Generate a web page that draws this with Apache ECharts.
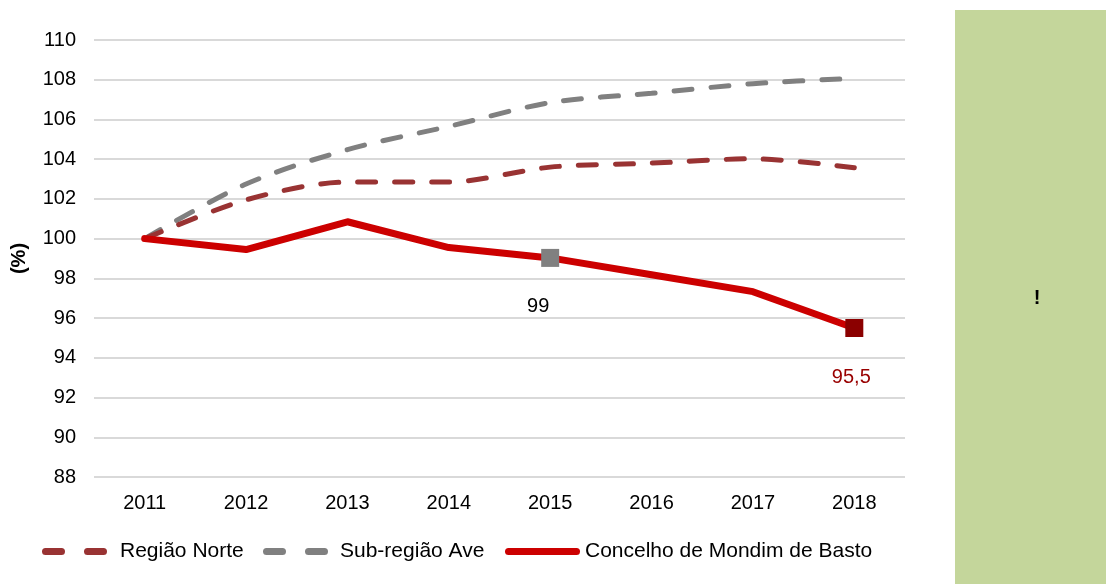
<!DOCTYPE html>
<html><head><meta charset="utf-8">
<script src="https://cdn.jsdelivr.net/npm/echarts@6/dist/echarts.min.js"></script>
<style>html,body{margin:0;padding:0;background:#fff}#c{width:1106px;height:584px}</style>
</head><body><div id="c"></div>
<script>
const categories = ['2011','2012','2013','2014','2015','2016','2017','2018'];
const regiaoNorte = [100, 101.95, 102.85, 102.85, 103.6, 103.8, 104.02, 103.57];
const subRegiaoAve = [100, 102.75, 104.48, 105.65, 106.85, 107.32, 107.8, 108.07];
const concelho = [100, 99.45, 100.85, 99.55, 99.03, 98.18, 97.33, 95.5];
const seriesNames = ['Região Norte', 'Sub-região Ave', 'Concelho de Mondim de Basto'];
const yTicks = {min: 88, max: 110, interval: 2};
const labelled = {4: {text: '99', color: '#000000', marker: '#808080', dx: -12},
                  7: {text: '95,5', color: '#990000', marker: '#8B0000', dx: -3}};

const font = 'Liberation Sans, Arial, sans-serif';
const concelhoData = concelho.map((v, i) => {
  const l = labelled[i];
  if (!l) return v;
  return {
    value: v, symbol: 'rect', symbolSize: 18,
    itemStyle: {color: l.marker},
    label: {show: true, position: 'bottom', distance: 30, offset: [l.dx, 0],
      formatter: l.text, color: l.color, fontSize: 20, fontFamily: font}
  };
});

// legend icon paths (two rounded dashes / one rounded bar)
const dashIcon = 'path://M3.5,0 H19.5 A3.5,3.5 0 0 1 19.5,7 H3.5 A3.5,3.5 0 0 1 3.5,0 Z M45.5,0 H61.5 A3.5,3.5 0 0 1 61.5,7 H45.5 A3.5,3.5 0 0 1 45.5,0 Z';
const barIcon = 'path://M3.5,0 H71.5 A3.5,3.5 0 0 1 71.5,7 H3.5 A3.5,3.5 0 0 1 3.5,0 Z';
const legendBase = {top: 541, padding: 0, itemHeight: 7, selectedMode: false,
  textStyle: {color: '#000', fontSize: 21, fontFamily: font}};

const chart = echarts.init(document.getElementById('c'), null, {renderer: 'canvas'});
chart.setOption({
  animation: false,
  backgroundColor: '#ffffff',
  grid: {left: 94, right: 201, top: 40, bottom: 107, containLabel: false},
  xAxis: {
    type: 'category', data: categories, boundaryGap: true,
    axisLine: {show: false}, axisTick: {show: false},
    axisLabel: {color: '#000', fontSize: 20, fontFamily: font, margin: 16}
  },
  yAxis: {
    type: 'value', min: yTicks.min, max: yTicks.max, interval: yTicks.interval,
    name: '(%)', nameLocation: 'middle', nameGap: 65, nameRotate: 90,
    nameTextStyle: {color: '#000', fontSize: 20, fontWeight: 'bold', fontFamily: font},
    axisLine: {show: false}, axisTick: {show: false},
    axisLabel: {color: '#000', fontSize: 20, fontFamily: font, margin: 18},
    splitLine: {lineStyle: {color: '#d9d9d9', width: 2}}
  },
  legend: [
    Object.assign({}, legendBase, {left: 42, itemWidth: 65,
      data: [{name: seriesNames[0], icon: dashIcon, itemStyle: {color: '#993333'},
        textStyle: {padding: [0, 0, 0, 8]}}]}),
    Object.assign({}, legendBase, {left: 263, itemWidth: 65,
      data: [{name: seriesNames[1], icon: dashIcon, itemStyle: {color: '#808080'},
        textStyle: {padding: [0, 0, 0, 7]}}]}),
    Object.assign({}, legendBase, {left: 505, itemWidth: 75, itemHeight: 8,
      data: [{name: seriesNames[2], icon: barIcon, itemStyle: {color: '#CC0000'}}]})
  ],
  series: [
    {name: seriesNames[0], type: 'line', data: regiaoNorte, smooth: 0.3, symbol: 'none',
     lineStyle: {color: '#993333', width: 5, type: [18, 19], cap: 'round'},
     itemStyle: {color: '#993333'}, z: 2},
    {name: seriesNames[1], type: 'line', data: subRegiaoAve, smooth: 0.3, symbol: 'none',
     lineStyle: {color: '#808080', width: 5, type: [18, 19], cap: 'round'},
     itemStyle: {color: '#808080'}, z: 1},
    {name: seriesNames[2], type: 'line', data: concelhoData, symbol: 'none',
     lineStyle: {color: '#CC0000', width: 7, cap: 'round', join: 'round'},
     itemStyle: {color: '#CC0000'}, z: 3}
  ],
  graphic: [
    {type: 'rect', left: 955, top: 10, shape: {width: 151, height: 574},
     style: {fill: '#C4D69B'}, z: 0},
    {type: 'text', x: 1037, y: 298,
     style: {text: '!', fill: '#000', align: 'center', verticalAlign: 'middle',
       font: 'bold 20px Liberation Sans, Arial, sans-serif'}}
  ]
});
</script></body></html>
